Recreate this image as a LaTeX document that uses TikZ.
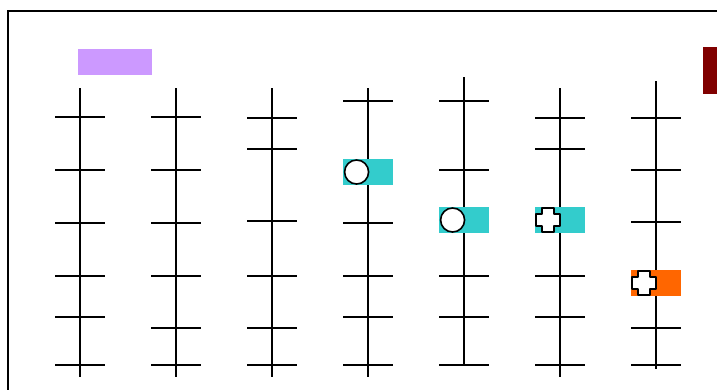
\documentclass[tikz,border=0pt]{standalone}
\usepackage{tikz}
\usetikzlibrary{positioning}
\definecolor{SlotCyan}{RGB}{51,204,204}
\definecolor{SlotOrange}{RGB}{255,102,0}
\definecolor{TagPurple}{RGB}{204,153,255}
\definecolor{TagMaroon}{RGB}{128,0,0}
\tikzset{
  rod/.style={line width=1.8pt, black},
  slot/.style={minimum width=50pt, minimum height=26pt, inner sep=0pt, draw=none},
  tag/.style={inner sep=0pt, draw=none},
  bead/.style={circle, draw=black, line width=1.6pt, fill=white, minimum size=24pt, inner sep=0pt},
  plusbead/.pic={
    \draw[line width=1.6pt, fill=white, line join=round]
      (-6,-12) -- (6,-12) -- (6,-6) -- (12,-6) -- (12,6) -- (6,6) -- (6,12)
      -- (-6,12) -- (-6,6) -- (-12,6) -- (-12,-6) -- (-6,-6) -- cycle;
  },
}

\begin{document}
\begin{tikzpicture}[x=1pt, y=-1pt]
  \useasboundingbox (0,0) rectangle (717,389);
  \draw[line width=1.8pt] (8,11) rectangle (740,410);
  % legend blocks
  \node[tag, fill=TagPurple, minimum width=74pt, minimum height=26pt] (legendA) at (115,62) {};
  \node[tag, fill=TagMaroon, minimum width=28pt, minimum height=47pt] (legendB) at (717,70.5) {};
  % rods with their rungs
  \foreach \x/\top/\bot/\rungs in {
      80/88/377/{117,170,223,276,317,365},
      176/88/377/{117,170,223,276,328,365},
      272/88/377/{118,149,221,276,328,365},
      368/88/377/{101,223,276,317,365},
      464/77/365/{101,170,276,317,365},
      560/88/377/{118,149,276,317,365},
      656/81/369/{118,170,222,328,365}} {
    \draw[rod] (\x,\top) -- (\x,\bot);
    \foreach \y in \rungs \draw[rod] (\x-25,\y) -- (\x+25,\y);
  }
  % occupied slots
  \foreach \n/\x/\y/\c in {4/368/172/SlotCyan, 5/464/220/SlotCyan, 6/560/220/SlotCyan, 7/656/283/SlotOrange}
    \node[slot, fill=\c] (slot\n) at (\x,\y) {};
  \node[bead, anchor=west] (bead4) at ([xshift=1pt]slot4.west) {};
  \node[bead, anchor=west] (bead5) at ([xshift=1pt]slot5.west) {};
  \pic (cross6) at ([xshift=13pt]slot6.west) {plusbead};
  \pic (cross7) at ([xshift=13pt]slot7.west) {plusbead};
\end{tikzpicture}
\end{document}
